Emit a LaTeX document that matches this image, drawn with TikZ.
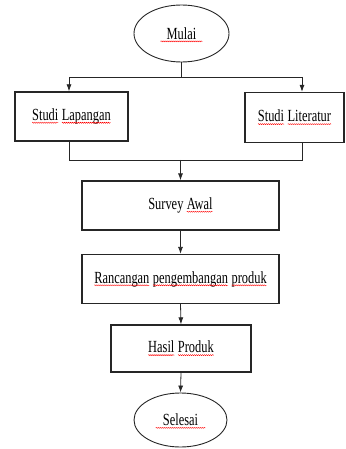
\documentclass[tikz,border=0pt]{standalone}
\usepackage{fontspec}
\setmainfont{Liberation Serif}[FakeStretch=0.73]
\usetikzlibrary{shapes.geometric,arrows.meta,decorations.pathmorphing}
\newcommand\sq[1]{\tikz[baseline=(w.base)]{\node[draw=none,inner sep=0pt,outer sep=0pt,minimum size=0pt] (w) {#1};
  \draw[red,line width=0.4pt,decorate,decoration={snake,amplitude=0.55pt,segment length=2pt}] ([yshift=-2.2pt]w.base west) -- ([yshift=-2.2pt]w.base east);}}
\begin{document}
\begin{tikzpicture}[x=1pt,y=-1pt,
  box/.style={draw=black!85,line width=1.3pt,rectangle,inner sep=0pt,font=\fontsize{17}{19}\selectfont},
  oval/.style={draw=black!85,line width=0.9pt,ellipse,inner sep=0pt,font=\fontsize{17}{19}\selectfont},
  conn/.style={draw=black!85,line width=0.8pt},
  arr/.style={conn,-{Latex[length=7pt,width=5pt]}}]
\useasboundingbox (0,0) rectangle (345,449);
\node[oval,minimum width=95pt,minimum height=57pt] (mulai) at (181.5,33.5) {\sq{Mulai}};
\node[box,minimum width=113pt,minimum height=49pt] (lap) at (71.5,116.5) {\sq{Studi} \sq{Lapangan}};
\node[box,minimum width=99pt,minimum height=50pt] (lit) at (294.5,117.5) {\sq{Studi} \sq{Literatur}};
\node[box,minimum width=197pt,minimum height=49pt] (survey) at (180.5,205.5) {Survey \sq{Awal}};
\node[box,minimum width=197pt,minimum height=49pt] (ranc) at (180.5,279) {\sq{Rancangan} \sq{pengembangan} \sq{produk}};
\node[box,minimum width=140pt,minimum height=47pt] (hasil) at (181,348.5) {\sq{Hasil} \sq{Produk}};
\node[oval,minimum width=93pt,minimum height=54pt] (selesai) at (180.5,420) {\sq{Selesai}};
\coordinate (tl) at (69,77);
\coordinate (tr) at (302,77);
\coordinate (bl) at (69,160);
\coordinate (br) at (302,160);
\draw[conn] (mulai.south) -- (mulai.south |- tl);
\draw[conn] (tl) -- (tr);
\draw[arr] (tl) -- (tl |- lap.north);
\draw[arr] (tr) -- (tr |- lit.north);
\draw[conn] (tl |- lap.south) -- (bl) -- (br) -- (tr |- lit.south);
\draw[arr] (survey.north |- bl) -- (survey.north);
\draw[arr] (survey.south) -- (ranc.north);
\draw[arr] (ranc.south) -- (hasil.north);
\draw[arr] (hasil.south) -- (selesai.north);
\end{tikzpicture}
\end{document}
